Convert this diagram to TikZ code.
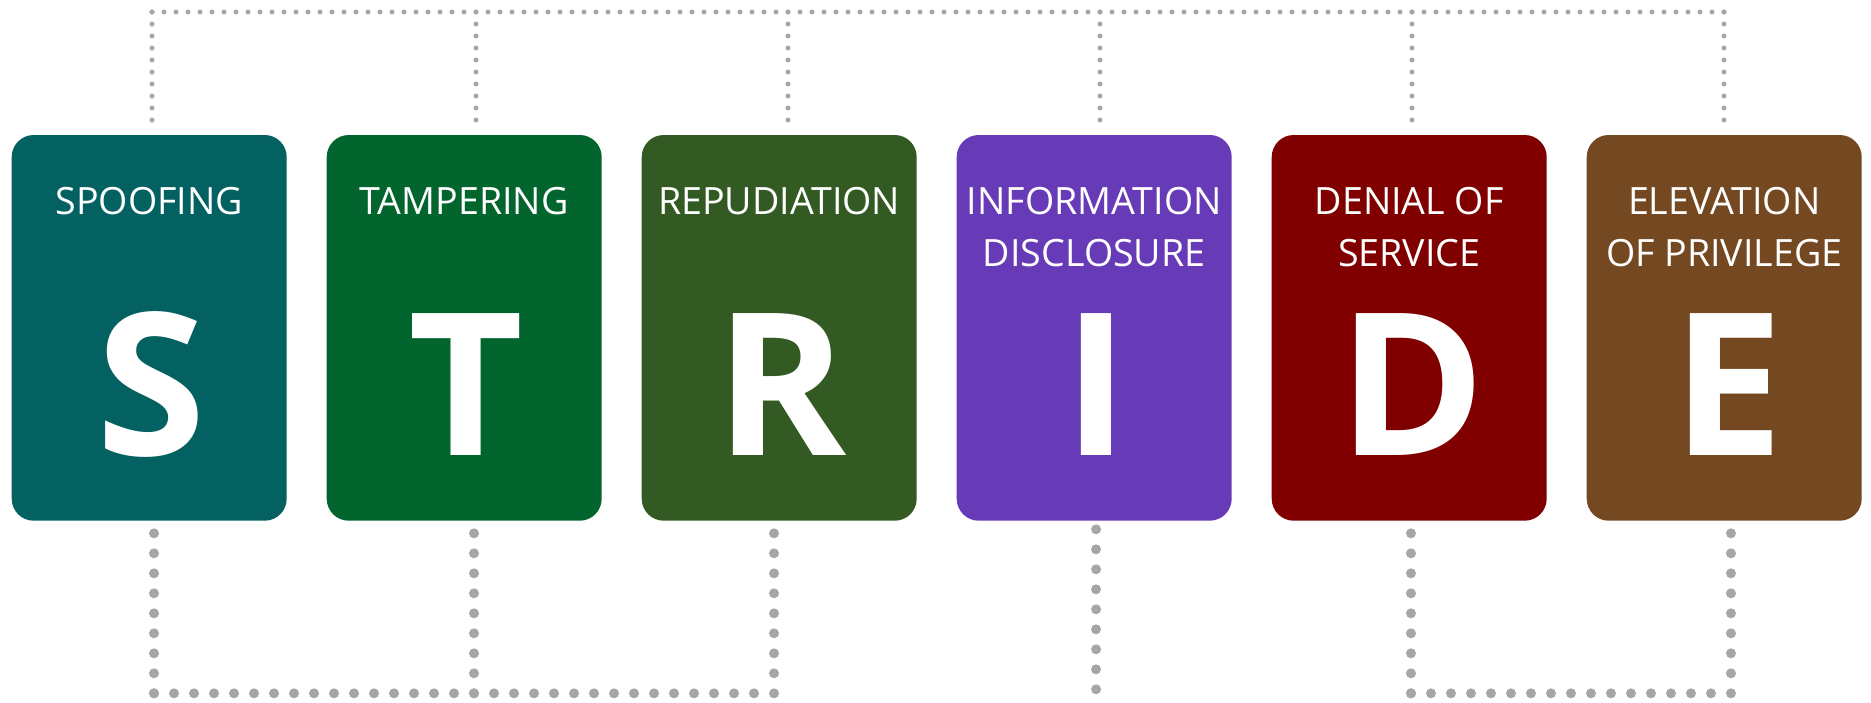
\documentclass[tikz,border=0pt]{standalone}
\usepackage{fontspec}
\setmainfont{Open Sans}
\definecolor{cS}{HTML}{036161}
\definecolor{cT}{HTML}{03652E}
\definecolor{cR}{HTML}{335A22}
\definecolor{cI}{HTML}{673AB7}
\definecolor{cD}{HTML}{800000}
\definecolor{cE}{HTML}{744821}
\definecolor{dotgray}{HTML}{A6A6A6}
\begin{document}
\begin{tikzpicture}[x=0.5pt,y=-0.5pt,
  box/.style={rectangle, rounded corners=11pt, minimum width=137.5pt, minimum height=192.85pt, inner sep=0pt, draw=none},
  lbl/.style={text=white, font=\fontsize{18.8}{26}\selectfont, align=center, anchor=base, inner sep=0pt},
  big/.style={text=white, font=\fontsize{99.4}{100}\selectfont\bfseries, anchor=base, inner sep=0pt},
  dotsmall/.style={draw=dotgray, line width=2.5pt, line cap=round, dash pattern=on 0pt off 6pt},
  dotbig/.style={draw=dotgray, line width=5pt, line cap=round, dash pattern=on 0pt off 10pt}]
\useasboundingbox (0,0) rectangle (1871,702);
% boxes
\node[box, fill=cS] (S) at (149.2,327.85) {};
\node[box, fill=cT] (T) at (464.2,327.85) {};
\node[box, fill=cR] (R) at (779.2,327.85) {};
\node[box, fill=cI] (I) at (1094.2,327.85) {};
\node[box, fill=cD] (D) at (1409.2,327.85) {};
\node[box, fill=cE] (E) at (1724.2,327.85) {};
% labels (base anchor = baseline of the last line)
\node[lbl] (lS) at (149.2,214.5) {SPOOFING};
\node[lbl] (lT) at (464.2,214.5) {TAMPERING};
\node[lbl] (lR) at (779.2,214.5) {REPUDIATION};
\node[lbl] (lI) at (1094.2,266.5) {INFORMATION\\DISCLOSURE};
\node[lbl] (lD) at (1409.2,266.5) {DENIAL OF\\SERVICE};
\node[lbl] (lE) at (1724.2,266.5) {ELEVATION\\OF PRIVILEGE};
% big letters
\node[big] (bgS) at (151.5,455) {S};
\node[big] (bgT) at (466.5,455) {T};
\node[big] (bgR) at (781.5,455) {R};
\node[big] (bgI) at (1096.5,455) {I};
\node[big] (bgD) at (1412,455) {D};
\node[big] (bgE) at (1728,455) {E};
% top connector coordinates
\coordinate (tS) at (152,12);
\coordinate (tT) at (476,12);
\coordinate (tR) at (788,12);
\coordinate (tI) at (1100,12);
\coordinate (tD) at (1412,12);
\coordinate (tE) at (1724,12);
\draw[dotsmall] (tS) -- (tE);
\foreach \n in {S,T,R,I,D,E}{
  \draw[dotsmall, shorten >=6pt] (t\n) -- (\n.north -| t\n);
}
% bottom connector coordinates
\coordinate (bS) at (154,693.3);
\coordinate (bT) at (474,693.3);
\coordinate (bR) at (774,693.3);
\coordinate (bI) at (1096,689.3);
\coordinate (bD) at (1411,693.3);
\coordinate (bE) at (1731,693.3);
\draw[dotbig] (bS) -- (bR);
\draw[dotbig] (bD) -- (bE);
\foreach \n in {S,T,R,I,D,E}{
  \draw[dotbig, shorten >=4pt] (b\n) -- (\n.south -| b\n);
}
\end{tikzpicture}
\end{document}
